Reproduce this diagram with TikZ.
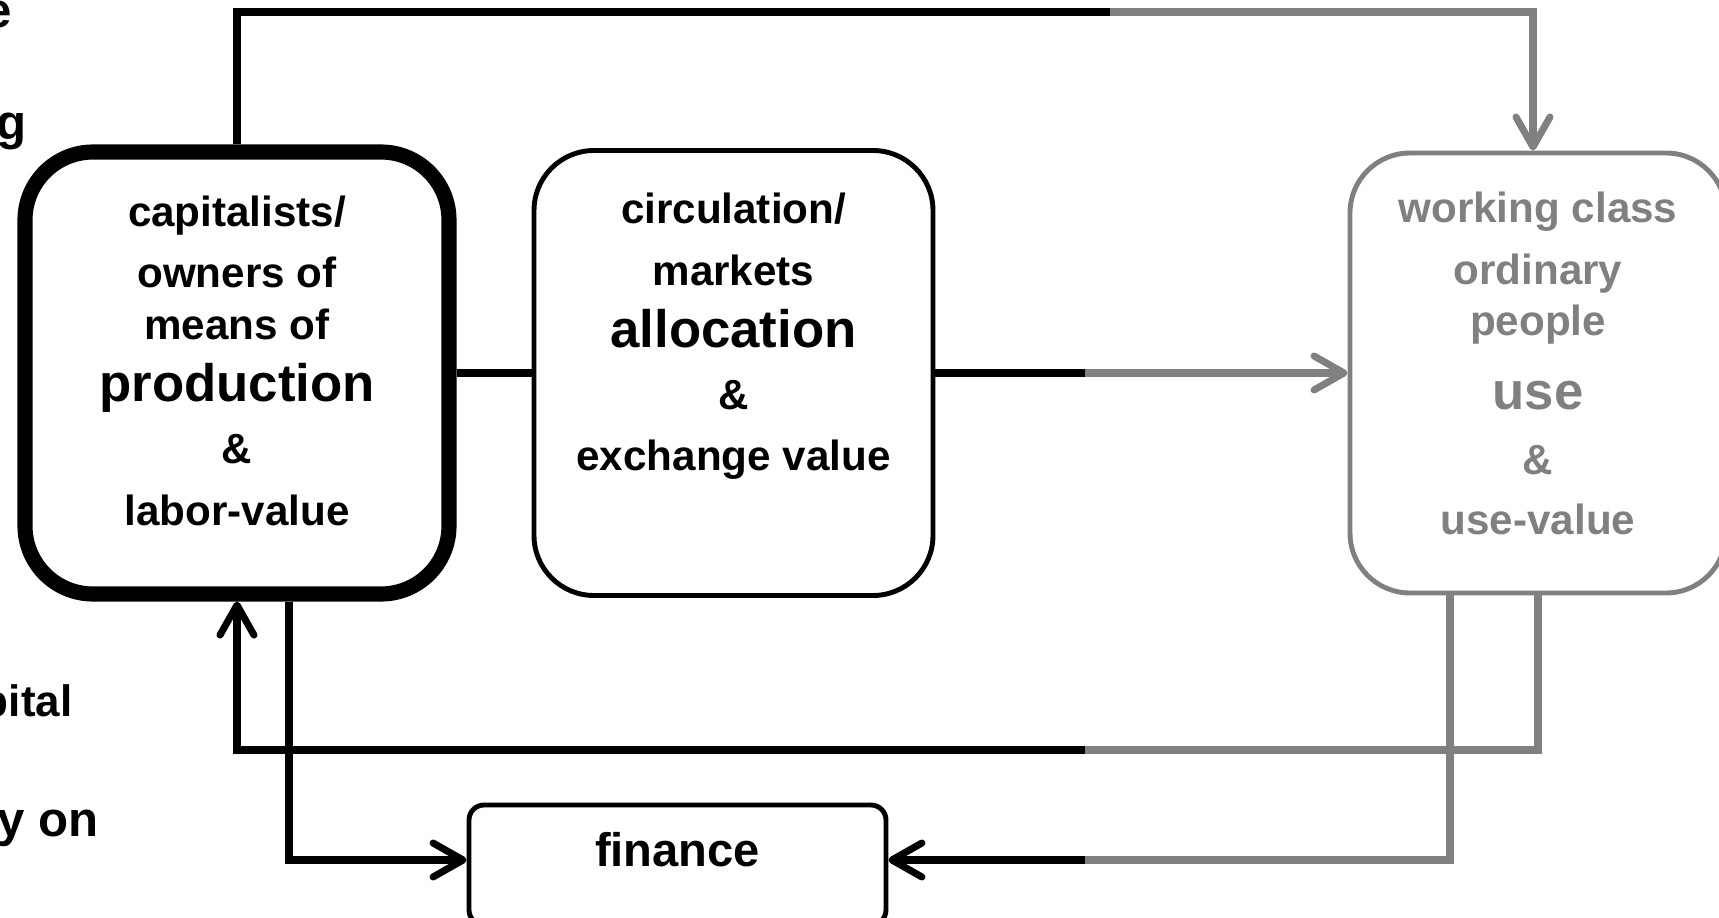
\documentclass[tikz,border=0pt]{standalone}
\usepackage{fontspec}
\setmainfont{Liberation Sans}
\usetikzlibrary{positioning, calc, arrows.meta}
\definecolor{wgrey}{RGB}{128,128,128}
\newcommand{\bigword}[1]{{\fontsize{15}{18}\selectfont #1}}

\begin{document}
\begin{tikzpicture}[
    font=\fontsize{12}{17.6}\selectfont\bfseries,
    >={Straight Barb[length=3mm, width=3.4mm, round]},
    box/.style={rectangle, draw, line width=1.4pt, rounded corners=6mm, align=center, inner sep=2pt},
    capbox/.style={box, line width=4.3pt, rounded corners=6.8mm, minimum width=4.24cm, minimum height=4.42cm},
    mktbox/.style={box, minimum width=3.99cm, minimum height=4.45cm},
    wrkbox/.style={box, draw=wgrey, text=wgrey, minimum width=3.76cm, minimum height=4.40cm},
    finbox/.style={box, rounded corners=1.5mm, minimum width=4.17cm, minimum height=1.2cm, font=\fontsize{13.4}{16}\selectfont\bfseries, text height=3.4mm, text depth=3.0mm},
    link/.style={line width=2pt},
    glink/.style={link, draw=wgrey},
    cut/.style={anchor=base east, inner sep=0pt, font=\fontsize{14}{17}\selectfont\bfseries}
]

\useasboundingbox (0,0) rectangle (17.19,9.17);
\clip (0,0) rectangle (17.19,9.17);

% Words cut off at the left edge
\node[cut] (cut_e) at (0.13,8.90) {e};
\node[cut] (cut_g) at (0.27,7.77) {g};
\node[cut, font=\fontsize{12.5}{15}\selectfont\bfseries] (cut_pital) at (0.73,2.01) {pital};
\node[cut] (cut_yon) at (0.99,0.81) {y on};

% Boxes
\node[capbox] (cap) at (2.37,5.44) {capitalists/\\ owners of\\[-2.8pt] means of\\ \bigword{production}\\ \&\\ labor-value\rule[-2.5mm]{0pt}{0pt}};
\node[mktbox] (mkt) at (7.335,5.44) {circulation/\\ markets\\ \bigword{allocation}\\ \&\\ exchange value\rule[-8.2mm]{0pt}{0pt}};
\node[wrkbox] (wrk) at (15.38,5.44) {working class\\ ordinary\\[-3.1pt] people\\[3.4pt] \bigword{use}\\[0.9pt] \&\\[-0.5pt] use-value\rule[-1.9mm]{0pt}{0pt}};
\node[finbox] (fin) at (6.775,0.52) {finance};

% Split points where black turns grey
\coordinate (split_top) at (11.10,9.05);
\coordinate (split_mid) at (10.85,5.44);
\coordinate (split_bot) at (10.85,1.67);
\coordinate (split_fin) at (10.85,0.57);

% Connectors
\draw[link] (cap.north) |- (split_top);
\draw[glink, ->] (split_top) -| ($(wrk.north)+(-0.05,0)$);

\draw[link] (cap.east) -- (mkt.west);
\draw[link] (mkt.east) -- (split_mid);
\draw[glink, ->] (split_mid) -- (wrk.west);

\draw[glink] (wrk.south) |- (split_bot);
\draw[link, ->] (split_bot) -| (cap.south);

\draw[link, ->] ($(cap.south)+(0.52,0)$) |- (fin.west |- split_fin);
\draw[glink] ($(wrk.south)+(-0.88,0)$) |- (split_fin);
\draw[link, ->] (split_fin) -- (fin.east |- split_fin);

\end{tikzpicture}
\end{document}
